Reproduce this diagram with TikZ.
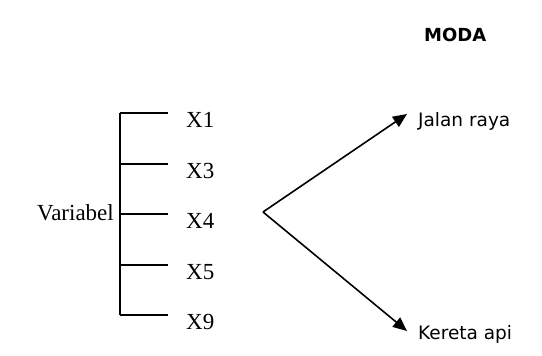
\documentclass[tikz,border=0pt]{standalone}
\usepackage{fontspec}
\setmainfont{Liberation Serif}
\newfontfamily\labelsans{DejaVu Sans}
\usetikzlibrary{arrows.meta}
\tikzset{
  x=1pt, y=1pt,
  bracketline/.style={line width=1.7pt},
  pointer/.style={line width=1.6pt, -{Triangle[length=14pt,width=12pt]}},
  seriftext/.style={font=\fontsize{23}{23}\selectfont, inner sep=0pt},
  xlabel/.style={seriftext, anchor=base west},
  modelabel/.style={font=\labelsans\fontsize{18.5}{18.5}\selectfont, anchor=base west, inner sep=0pt},
}
\begin{document}
\begin{tikzpicture}
  \useasboundingbox (0,0) rectangle (542,356);

  % heading
  \node[font=\labelsans\bfseries\fontsize{18}{18}\selectfont, anchor=base west, inner sep=0pt] (moda) at (424,314) {MODA};

  % bracket of variables
  \foreach \i/\yy/\lab in {1/243/X1, 2/192/X3, 3/142/X4, 4/91/X5, 5/41/X9} {
    \coordinate (b\i) at (120,\yy);
    \coordinate (e\i) at (168,\yy);
    \node[xlabel] (x\i) at (186,\yy-15) {\lab};
    \draw[bracketline] (b\i) -- (e\i);
  }
  \draw[bracketline] (b1) -- (b5);
  \node[seriftext, anchor=base east] (var) at (114,135) {Variabel};

  % split into the two modes
  \coordinate (v) at (263,144);
  \coordinate (t1) at (407,242);
  \coordinate (t2) at (407,25);
  \node[modelabel] (jalan) at (418,229) {Jalan raya};
  \node[modelabel] (kereta) at (418,16) {Kereta api};
  \draw[pointer] (v) -- (t1);
  \draw[pointer] (v) -- (t2);
\end{tikzpicture}
\end{document}
